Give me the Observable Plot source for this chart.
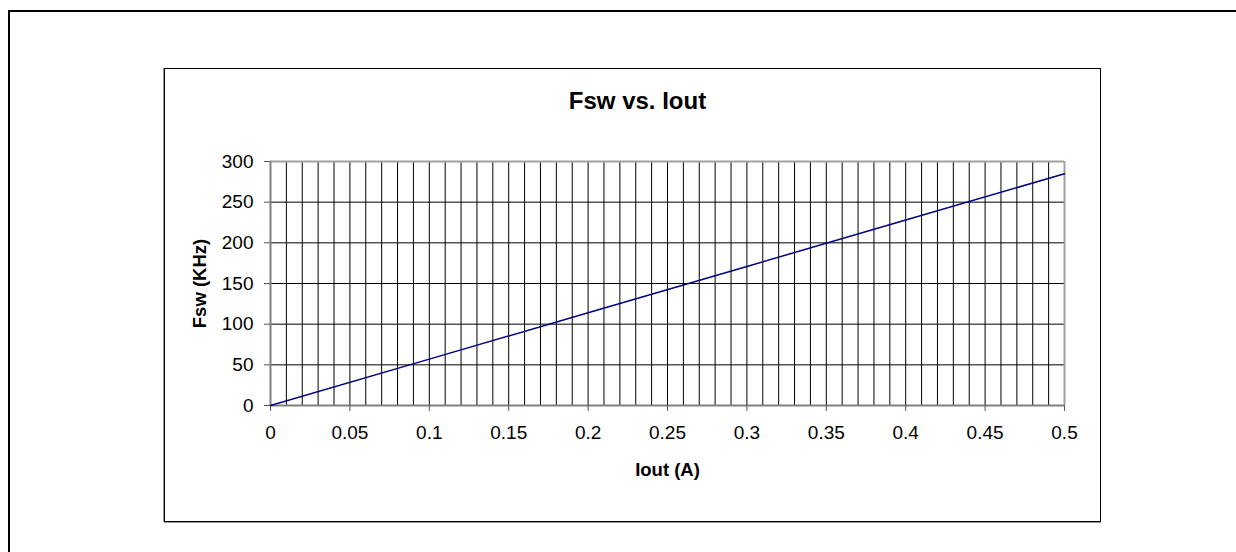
<!DOCTYPE html>
<html>
<head>
<meta charset="utf-8">
<script src="https://cdn.jsdelivr.net/npm/d3@7"></script>
<script src="https://cdn.jsdelivr.net/npm/@observablehq/plot@0.6"></script>
<style>
  html, body { margin: 0; padding: 0; background: #fff; width: 1236px; height: 552px; overflow: hidden; }
  #outer { position: absolute; left: 8px; top: 10px; width: 1300px; height: 600px; border: 2px solid #000; box-sizing: border-box; }
  #inner { position: absolute; left: 164px; top: 68px; width: 937px; height: 454px; border: 1px solid #000; box-shadow: -1px 0 0 #999, 0 1px 0 #999; box-sizing: border-box; }
  #chart { position: absolute; left: 0; top: 0; }
</style>
</head>
<body>
<div id="outer"></div>
<div id="inner"></div>
<div id="chart"></div>
<script>
// Data
const iout = [0, 0.1, 0.2, 0.3, 0.4, 0.5];      // A
const fsw  = [0, 57, 114, 171, 228, 285];        // KHz
const xTicks = [0, 0.05, 0.1, 0.15, 0.2, 0.25, 0.3, 0.35, 0.4, 0.45, 0.5];
const yTicks = [0, 50, 100, 150, 200, 250, 300];
const xGrid = d3.range(0, 51).map(i => i / 100);
const titleText = "Fsw vs. Iout";
const xLabel = "Iout (A)";
const yLabel = "Fsw (KHz)";

const rows = iout.map((x, i) => ({x, y: fsw[i]}));

const chart = Plot.plot({
  width: 1236,
  height: 552,
  marginLeft: 270,
  marginRight: 172,
  marginTop: 161,
  marginBottom: 147,
  style: {fontFamily: "'Liberation Sans', Arial, sans-serif", fontSize: "19px", background: "transparent", color: "#000"},
  x: {domain: [0, 0.5]},
  y: {domain: [0, 300]},
  marks: [
    Plot.ruleX(xGrid.filter(v => v > 0 && v < 0.5), {stroke: "#000", strokeWidth: 1, strokeOpacity: 1}),
    Plot.ruleY(yTicks.filter(v => v > 0 && v < 300), {stroke: "#000", strokeWidth: 1, strokeOpacity: 1}),
    Plot.ruleY([300], {stroke: "#a0a0a0", strokeWidth: 2}),
    Plot.ruleX([0.5], {stroke: "#a0a0a0", strokeWidth: 2}),
    Plot.ruleX([0], {stroke: "#808080", strokeWidth: 2}),
    Plot.ruleY([0], {stroke: "#808080", strokeWidth: 2}),
    Plot.axisX({ticks: xTicks, tickSize: 6, tickPadding: 14, stroke: "#555", tickFormat: d => String(+d.toFixed(2)), label: null, fontSize: 19}),
    Plot.axisY({ticks: yTicks, tickSize: 6, tickPadding: 11, stroke: "#555", tickFormat: d => String(d), label: null, fontSize: 19}),
    Plot.line(rows, {x: "x", y: "y", stroke: "#000080", strokeWidth: 1.5}),
    Plot.text([titleText], {frameAnchor: "top", lineAnchor: "middle", dx: -30, dy: -60, fontSize: 24, fontWeight: "bold", fill: "#000"}),
    Plot.text([xLabel], {frameAnchor: "bottom", lineAnchor: "middle", dy: 65, fontSize: 18.5, fontWeight: "bold", fill: "#000"}),
    Plot.text([yLabel], {frameAnchor: "left", textAnchor: "middle", lineAnchor: "middle", dx: -70, dy: 0, rotate: -90, fontSize: 18.5, fontWeight: "bold", fill: "#000"})
  ]
});
document.getElementById("chart").appendChild(chart);
</script>
</body>
</html>
